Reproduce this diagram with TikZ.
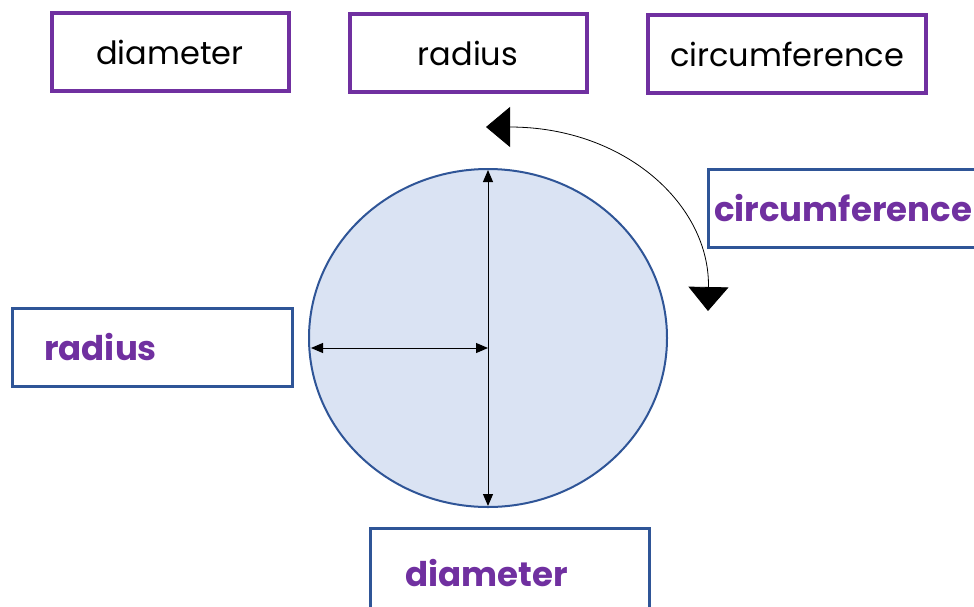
\documentclass[tikz,border=0pt]{standalone}
\usepackage{fontspec}
\setmainfont{Poppins}
\usetikzlibrary{arrows.meta, positioning, shapes.geometric}
\definecolor{labelpurple}{HTML}{7030A0}
\definecolor{boxblue}{HTML}{2F5597}
\definecolor{circfill}{HTML}{DAE3F3}

\begin{document}
\begin{tikzpicture}[
  x=1pt, y=-1pt,
  word/.style={draw=labelpurple, line width=4pt, minimum width=237pt, minimum height=78pt,
               font=\fontsize{32}{36}\selectfont, text=black},
  answer/.style={draw=boxblue, line width=2.5pt, minimum height=78pt, align=left,
                 font=\fontsize{34}{38}\selectfont\bfseries, text=labelpurple, anchor=north west},
  dim/.style={{Triangle[length=12pt,width=10pt]}-{Triangle[length=12pt,width=10pt]}, line width=1pt},
  around/.style={{Triangle[length=24pt,width=40pt]}-{Triangle[length=24pt,width=40pt]}, line width=0.8pt}
]
  \useasboundingbox (0,0) rectangle (974,606);

  % word cards
  \node[word] (wdiam) at (170,52) {diameter};
  \node[word] (wrad) at (468,53) {radius};
  \node[word, minimum width=278pt] (wcirc) at (787,54) {circumference};

  % the circle
  \node[draw=boxblue, line width=2pt, fill=circfill, ellipse, minimum width=358pt, minimum height=338pt,
        inner sep=0pt] (circ) at (488,338) {};
  \coordinate (top) at (488,170);
  \coordinate (bot) at (488,506);
  \coordinate (left) at (311,348);
  \coordinate (mid) at (488,348);
  \draw[dim] (top) -- (bot);
  \draw[dim] (left) -- (mid);

  % going round
  \coordinate (arcstart) at (486,127);
  \coordinate (arcend) at (708,311);
  \draw[around] (arcstart) .. controls (625,127) and (710,205) .. (arcend);

  % answer boxes
  \node[answer, text width=262pt, inner xsep=6pt] (acirc) at (707,168) {circumference};
  \node[answer, text width=216pt, inner xsep=32pt] (arad) at (11,307) {radius};
  \node[answer, text width=209pt, inner xsep=35pt, minimum height=90pt] (adiam) at (369,527) {diameter};
\end{tikzpicture}
\end{document}
